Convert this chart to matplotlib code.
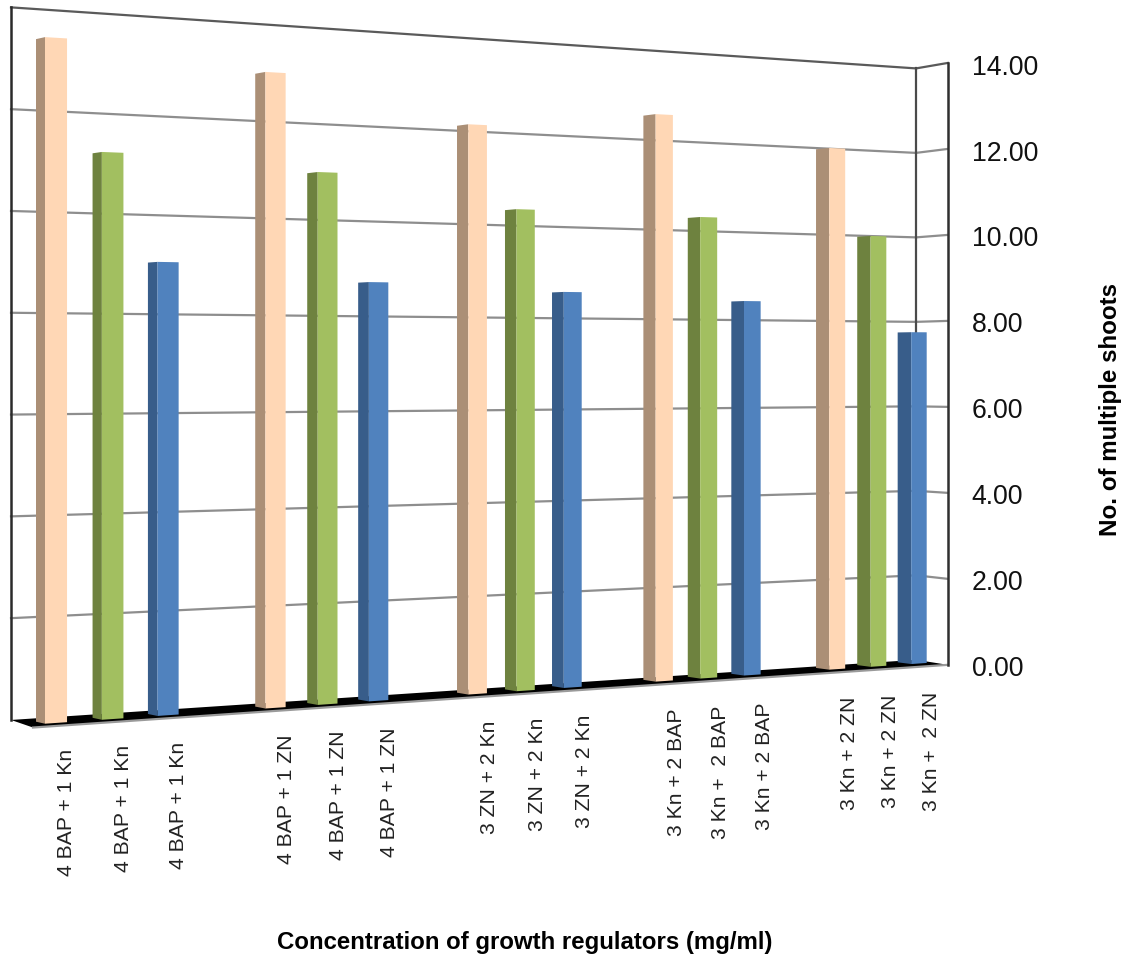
import matplotlib
matplotlib.use("Agg")
import matplotlib.pyplot as plt
import numpy as np
from matplotlib.patches import Polygon
from matplotlib.transforms import Transform

plt.rcParams['font.family'] = ['Liberation Sans', 'DejaVu Sans']

# Chart data
categories = [
    "4 BAP + 1 Kn", "4 BAP + 1 Kn", "4 BAP + 1 Kn",
    "4 BAP + 1 ZN", "4 BAP + 1 ZN", "4 BAP + 1 ZN",
    "3 ZN + 2 Kn", "3 ZN + 2 Kn", "3 ZN + 2 Kn",
    "3 Kn + 2 BAP", "3 Kn +  2 BAP", "3 Kn + 2 BAP",
    "3 Kn + 2 ZN", "3 Kn + 2 ZN", "3 Kn +  2 ZN",
]
shoots = [13.41, 11.21, 9.06,
          12.97, 10.97, 8.72,
          12.10, 10.33, 8.57,
          12.52, 10.28, 8.42,
          11.95, 9.96, 7.74]
slots = [0, 1, 2, 4, 5, 6, 8, 9, 10, 12, 13, 14, 16, 17, 18]
y_ticks = [0, 2, 4, 6, 8, 10, 12, 14]

front_colors = ["#FFD7B5", "#A2BF60", "#5082BE"]
side_colors = ["#AB8F76", "#6E823F", "#385D8A"]

BAR_WIDTH = 0.385
U_LEFT, U_RIGHT = -0.435, 18.46


class PlanarView(Transform):
    """Perspective map of a plane of (slot, value) onto axes coordinates."""
    input_dims = 2
    output_dims = 2
    shrink = 0.010794

    def __init__(self, x0, x1, y0, y1, scale):
        super().__init__()
        self.x0, self.x1, self.y0, self.y1, self.scale = x0, x1, y0, y1, scale

    def transform_non_affine(self, values):
        values = np.asarray(values, dtype=float)
        u, v = values[:, 0], values[:, 1]
        w = 1 + self.shrink * u
        return np.column_stack([(self.x0 + self.x1 * u) / w,
                                (self.y0 + self.y1 * u - self.scale * v) / w])


wall_plane = PlanarView(36, 57.56, 718.3, 3.953, 50.66)
edge_plane = PlanarView(58.26, 58.42, 725.8, 3.874, 51.56)
bar_back = PlanarView(36, 57.56, 721.7, 3.85, 50.9)
bar_front = PlanarView(45, 57.96, 723.7, 3.852, 51.2)
label_plane = PlanarView(66.5, 58.1, 749, 4.28, 0)

fig = plt.figure(figsize=(11.29, 9.59), dpi=100, facecolor="white")
ax = fig.add_axes([0, 0, 1, 1])
ax.set_xlim(0, 1129)
ax.set_ylim(959, 0)
ax.axis("off")

wall = wall_plane + ax.transData
edge = edge_plane + ax.transData
back = bar_back + ax.transData
front = bar_front + ax.transData
under = label_plane + ax.transData


def corner_line(plane_pts_a, plane_pts_b, **kw):
    """Line between two points, each given in its own plane's transform."""
    (tr_a, pt_a), (tr_b, pt_b) = plane_pts_a, plane_pts_b
    a = tr_a.transform([pt_a])[0]
    b = tr_b.transform([pt_b])[0]
    inv = ax.transData.inverted()
    a, b = inv.transform([a, b])
    ax.plot([a[0], b[0]], [a[1], b[1]], **kw)


# Floor
floor = [(wall, (U_LEFT, 0)), (wall, (U_RIGHT, 0)), (edge, (U_RIGHT, 0)), (edge, (U_LEFT, 0))]
floor_xy = ax.transData.inverted().transform([tr.transform([p])[0] for tr, p in floor])
ax.add_patch(Polygon(floor_xy, closed=True, facecolor="black", edgecolor="none", zorder=1))
corner_line((edge, (U_LEFT, 0)), (edge, (U_RIGHT, 0)), color="#9a9a9a", lw=1.6, zorder=1.5)

# Gridlines on the back wall and the side wall
grid_color = "#8e8e8e"
for t in y_ticks[1:-1]:
    ax.plot([U_LEFT, U_RIGHT], [t, t], transform=wall, color=grid_color, lw=1.6, zorder=2)
    corner_line((wall, (U_RIGHT, t)), (edge, (U_RIGHT, t)), color=grid_color, lw=1.6, zorder=2)

# Wall frame
ymax = y_ticks[-1]
ax.plot([U_LEFT, U_RIGHT], [ymax, ymax], transform=wall, color="#5a5a5a", lw=1.6, zorder=2)
corner_line((wall, (U_RIGHT, ymax)), (edge, (U_RIGHT, ymax)), color="#5a5a5a", lw=1.6, zorder=2)
ax.plot([U_LEFT, U_LEFT], [0, ymax], transform=wall, color="#2a2a2a", lw=1.8, zorder=3)
ax.plot([U_RIGHT, U_RIGHT], [0, ymax], transform=wall, color="#4a4a4a", lw=1.6, zorder=3)
ax.plot([U_RIGHT, U_RIGHT], [0, ymax], transform=edge, color="#2f2f2f", lw=1.8, zorder=3)

# Bars: darker left side face, then the front face
for i, (u, val) in enumerate(zip(slots, shoots)):
    series = i % 3
    side_xy = ax.transData.inverted().transform([
        back.transform([(u, 0)])[0], front.transform([(u, 0)])[0],
        front.transform([(u, val)])[0], back.transform([(u, val)])[0]])
    ax.add_patch(Polygon(side_xy, closed=True, facecolor=side_colors[series],
                         edgecolor="none", zorder=4))
    ax.add_patch(Polygon([(u, 0), (u + BAR_WIDTH, 0), (u + BAR_WIDTH, val), (u, val)],
                         closed=True, transform=front, facecolor=front_colors[series],
                         edgecolor="none", zorder=5))

# Value axis labels
for t in y_ticks:
    ax.annotate(f"{t:.2f}", xy=(U_RIGHT, t), xycoords=edge, xytext=(17.3, -3.3),
                textcoords="offset points", ha="left", va="center",
                fontsize=19.2, color="#111111")

# Category labels
for u, name in zip(slots, categories):
    ax.text(u, 0, name, transform=under, rotation=90, ha="center", va="top",
            fontsize=15.2, color="#222222")

ax.text(524.5, 943, "Concentration of growth regulators (mg/ml)", ha="center", va="center",
        fontsize=17.3, fontweight="bold", color="black")
ax.text(1110, 410, "No. of multiple shoots", rotation=90, ha="center", va="center",
        fontsize=17.4, fontweight="bold", color="black")

fig.savefig("out.png", dpi=100)
